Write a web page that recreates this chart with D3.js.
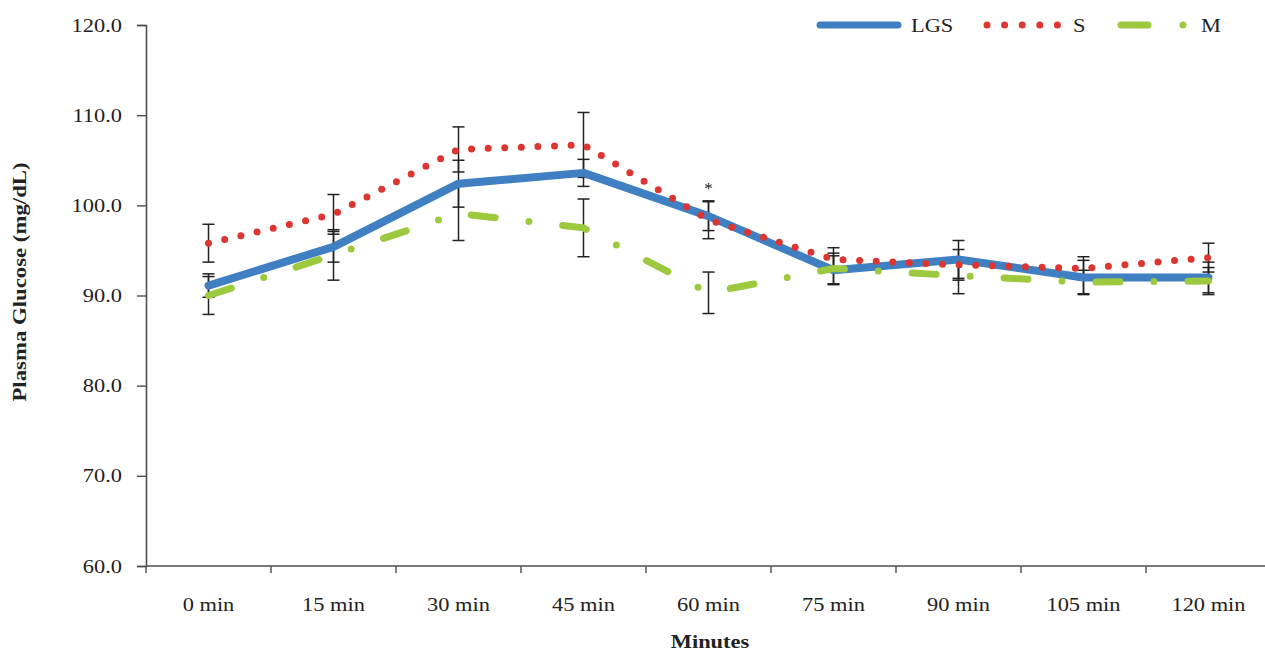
<!DOCTYPE html>
<html>
<head>
<meta charset="utf-8">
<script src="https://cdn.jsdelivr.net/npm/d3@7"></script>
<style>
  body { margin: 0; background: #fff; }
  svg text { font-family: "Times New Roman", "Liberation Serif", Tinos, Times, serif; fill: #222; }
</style>
</head>
<body>
<svg id="chart" width="1265" height="654"></svg>
<script>
// data
var categories = ['0 min', '15 min', '30 min', '45 min', '60 min', '75 min', '90 min', '105 min', '120 min'];
var lgs    = [91.1, 95.4, 102.4, 103.6, 98.8, 92.8, 94.0, 92.0, 92.0];
var lgsErr = [1.3, 1.7, 2.6, 1.5, 1.6, 1.6, 2.1, 1.9, 1.7];
var sVals  = [95.8, 99.0, 106.2, 106.7, 98.4, 94.0, 93.4, 93.0, 94.2];
var sErr   = [2.1, 2.2, 2.5, 3.6, 2.1, 1.3, 1.7, 1.3, 1.6];
var mVals  = [90.0, 94.5, 99.1, 97.5, 90.3, 93.0, 92.2, 91.5, 91.6];
var mErr   = [2.1, 2.8, 3.0, 3.2, 2.3, 1.7, 2.0, 1.3, 1.5];
var yTicks = [60, 70, 80, 90, 100, 110, 120];
var starAt = '60 min';

var blue = '#3f7fc2', red = '#dd3530', green = '#9dc93f', axisCol = '#4d4d4d';
var sx = 1.18; // text in the picture is a little wide
var serif = '"Times New Roman", "Liberation Serif", Tinos, Times, serif';

var svg = d3.select('#chart');

var xScale = d3.scaleBand().domain(categories).range([146, 1271]);
var yScale = d3.scaleLinear().domain([60, 120]).range([566, 25]);
var cx = d => xScale(d) + xScale.bandwidth() / 2;

function stretch(sel) {
  sel.each(function() {
    var t = d3.select(this);
    var x = +t.attr('x') || 0;
    t.attr('x', x / sx).attr('transform', 'scale(' + sx + ',1)');
  });
}

// y axis
var yAxis = svg.append('g')
  .attr('transform', 'translate(146,0)')
  .call(d3.axisLeft(yScale).tickValues(yTicks).tickFormat(d3.format('.1f')).tickSize(9).tickPadding(15));
yAxis.attr('font-family', serif);
yAxis.select('.domain').attr('stroke', axisCol).attr('stroke-width', 1.6);
yAxis.selectAll('.tick line').attr('stroke', axisCol).attr('stroke-width', 1.4);
yAxis.selectAll('text').attr('font-size', 19).attr('fill', '#222');
stretch(yAxis.selectAll('text'));

// x axis
var xAxis = svg.append('g').attr('transform', 'translate(0,566)');
xAxis.append('line')
  .attr('x1', 146).attr('x2', 1271)
  .attr('stroke', axisCol).attr('stroke-width', 1.6);
var bounds = categories.map(d => xScale(d)).concat([xScale.range()[1]]);
xAxis.selectAll('.xt').data(bounds).join('line')
  .attr('class', 'xt')
  .attr('x1', d => d).attr('x2', d => d)
  .attr('y1', 0).attr('y2', 7)
  .attr('stroke', axisCol).attr('stroke-width', 1.4);
xAxis.selectAll('.xl').data(categories).join('text')
  .attr('class', 'xl')
  .attr('x', d => cx(d))
  .attr('y', 45)
  .attr('text-anchor', 'middle')
  .attr('font-size', 19)
  .text(d => d);
stretch(xAxis.selectAll('.xl'));

// axis titles
svg.append('text')
  .attr('x', 710 / sx).attr('y', 648)
  .attr('transform', 'scale(' + sx + ',1)')
  .attr('text-anchor', 'middle')
  .attr('font-size', 19).attr('font-weight', 'bold')
  .text('Minutes');

svg.append('text')
  .attr('transform', 'translate(26,282) rotate(-90) scale(1.2,1)')
  .attr('text-anchor', 'middle')
  .attr('font-size', 19).attr('font-weight', 'bold')
  .text('Plasma Glucose (mg/dL)');

// error bars
function errorBars(vals, errs) {
  var g = svg.append('g').attr('stroke', '#222').attr('stroke-width', 1.5);
  categories.forEach(function(c, i) {
    var x = cx(c);
    var y1 = yScale(vals[i] + errs[i]);
    var y2 = yScale(vals[i] - errs[i]);
    g.append('line').attr('x1', x).attr('x2', x).attr('y1', y1).attr('y2', y2);
    g.append('line').attr('x1', x - 6).attr('x2', x + 6).attr('y1', y1).attr('y2', y1);
    g.append('line').attr('x1', x - 6).attr('x2', x + 6).attr('y1', y2).attr('y2', y2);
  });
}
errorBars(sVals, sErr);
errorBars(lgs, lgsErr);
errorBars(mVals, mErr);

var line = d3.line()
  .x((d, i) => cx(categories[i]))
  .y(d => yScale(d));

// LGS
svg.append('path')
  .datum(lgs)
  .attr('d', line)
  .attr('fill', 'none')
  .attr('stroke', blue)
  .attr('stroke-width', 8)
  .attr('stroke-linejoin', 'round')
  .attr('stroke-linecap', 'round');

// S
svg.append('path')
  .datum(sVals)
  .attr('d', line)
  .attr('fill', 'none')
  .attr('stroke', red)
  .attr('stroke-width', 7)
  .attr('stroke-dasharray', '0 16.6')
  .attr('stroke-linecap', 'round');

// M
svg.append('path')
  .datum(mVals)
  .attr('d', line)
  .attr('fill', 'none')
  .attr('stroke', green)
  .attr('stroke-width', 7)
  .attr('stroke-dasharray', '24 34 0 34')
  .attr('stroke-linecap', 'round');

// significance mark
svg.append('text')
  .attr('x', cx(starAt))
  .attr('y', yScale(d3.max([lgs[4] + lgsErr[4], sVals[4] + sErr[4]])) - 7)
  .attr('text-anchor', 'middle')
  .attr('font-size', 17)
  .text('*');

// legend
var leg = svg.append('g').attr('transform', 'translate(0,25)');
leg.append('line').attr('x1', 820).attr('x2', 898).attr('y1', 0).attr('y2', 0)
  .attr('stroke', blue).attr('stroke-width', 7).attr('stroke-linecap', 'round');
leg.append('line').attr('x1', 987).attr('x2', 1058).attr('y1', 0).attr('y2', 0)
  .attr('stroke', red).attr('stroke-width', 7).attr('stroke-linecap', 'round')
  .attr('stroke-dasharray', '0 17.6');
leg.append('line').attr('x1', 1121).attr('x2', 1148).attr('y1', 0).attr('y2', 0)
  .attr('stroke', green).attr('stroke-width', 7).attr('stroke-linecap', 'round');
leg.append('circle').attr('cx', 1183).attr('cy', 0).attr('r', 3.5).attr('fill', green);
var legText = [['LGS', 911], ['S', 1073], ['M', 1201]];
leg.selectAll('.lt').data(legText).join('text')
  .attr('class', 'lt')
  .attr('x', d => d[1])
  .attr('y', 7)
  .attr('font-size', 19)
  .text(d => d[0]);
stretch(leg.selectAll('.lt'));
</script>
</body>
</html>
